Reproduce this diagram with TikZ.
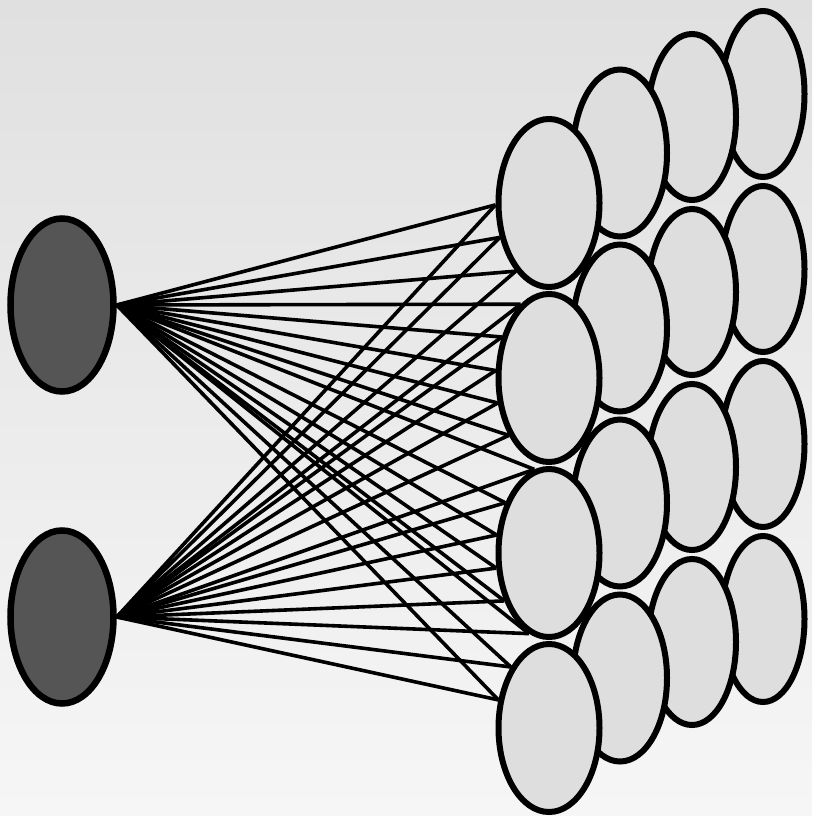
\documentclass[tikz,border=0pt]{standalone}
\usetikzlibrary{shapes.geometric}
\definecolor{bgtop}{RGB}{224,224,224}
\definecolor{bgbot}{RGB}{246,246,246}
\definecolor{inputfill}{RGB}{85,85,85}
\definecolor{unitfill}{RGB}{222,222,222}
\pgfdeclarelayer{back}
\pgfdeclarelayer{links}
\pgfsetlayers{back,links,main}
\begin{document}
\begin{tikzpicture}[x=1pt,y=-1pt,
  inputnode/.style={ellipse, draw=black, line width=6.5pt, fill=inputfill,
    minimum width=103pt, minimum height=173pt, inner sep=0pt},
  unit/.style={ellipse, draw=black, line width=6pt, fill=unitfill, inner sep=0pt},
  link/.style={draw=black, line width=3.6pt}]
\useasboundingbox (0,0) rectangle (812,816);
\begin{pgfonlayer}{back}
  \shade[top color=bgtop, bottom color=bgbot] (0,0) rectangle (812,816);
\end{pgfonlayer}

% 4x4 map of units, drawn from the back column to the front column
\foreach \c/\x/\y/\w/\h in {4/763/94/83/166, 3/692/117/88/166,
                            2/620/153/94/167, 1/549/203/101/168} {
  \foreach \r in {1,...,4} {
    \node[unit, minimum width=\w pt, minimum height=\h pt]
      (u\c\r) at (\x, {\y+175*(\r-1)}) {};
  }
}

% two input units
\node[inputnode] (inA) at (62,305) {};
\node[inputnode] (inB) at (62,617) {};

% every input is wired to the map; the units hide the wires behind them
\begin{pgfonlayer}{links}
  \foreach \src in {inA,inB} {
    \foreach \tgt/\ang in {u11/182, u11/215, u11/244,
                           u12/111, u12/139, u12/172, u12/206, u12/235,
                           u13/100, u13/131, u13/161, u13/196, u13/227, u13/256,
                           u14/122, u14/151} {
      \draw[link] (\src.east) -- (\tgt.\ang);
    }
  }
\end{pgfonlayer}
\end{tikzpicture}
\end{document}
